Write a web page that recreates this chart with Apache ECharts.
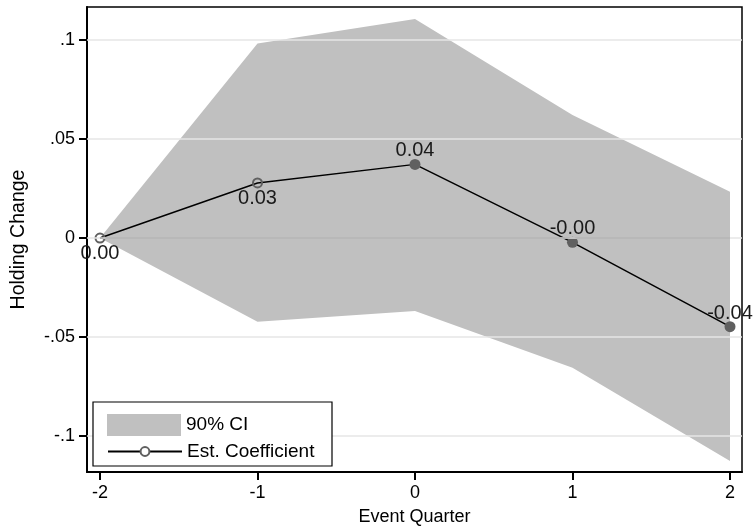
<!DOCTYPE html>
<html><head><meta charset="utf-8">
<script src="https://cdn.jsdelivr.net/npm/echarts@6/dist/echarts.min.js"></script>
<style>html,body{margin:0;padding:0;background:#fff}#c{width:753px;height:528px}</style>
</head><body><div id="c"></div>
<script>
const quarters = [-2, -1, 0, 1, 2];
const coef = [0, 0.0278, 0.0372, -0.0022, -0.0448];
const ciLower = [0, -0.0423, -0.0369, -0.0656, -0.1126];
const ciUpper = [0, 0.0983, 0.1106, 0.0621, 0.0234];
const xTicks = [-2, -1, 0, 1, 2];
const yTicks = [-0.1, -0.05, 0, 0.05, 0.1];
const yTickLabels = ['-.1', '-.05', '0', '.05', '.1'];
const seriesNames = ['90% CI', 'Est. Coefficient'];

const FONT = '"Liberation Sans", Arial, Helvetica, sans-serif';
const chart = echarts.init(document.getElementById('c'), null, {renderer: 'canvas'});

const option = {
  animation: false,
  backgroundColor: '#fff',
  grid: {left: 87, right: 11, top: 7, bottom: 56, show: true, borderColor: '#000', borderWidth: 1.5,
         backgroundColor: 'transparent', containLabel: false, outerBoundsMode: 'none'},
  xAxis: {
    type: 'value', min: -2.0825, max: 2.0762,
    name: 'Event Quarter', nameLocation: 'middle', nameGap: 36,
    nameTextStyle: {fontSize: 18, color: '#000', fontFamily: FONT},
    axisLine: {show: true, onZero: false, lineStyle: {color: '#000', width: 2}},
    axisTick: {show: true, length: 8, customValues: xTicks, lineStyle: {color: '#000', width: 2}},
    axisLabel: {customValues: xTicks, fontSize: 18, color: '#000', margin: 12, fontFamily: FONT},
    splitLine: {show: false}
  },
  yAxis: {
    type: 'value', min: -0.1182, max: 0.1167,
    name: 'Holding Change', nameLocation: 'middle', nameGap: 58, nameRotate: 90,
    nameTextStyle: {fontSize: 19.5, color: '#000', fontFamily: FONT},
    axisLine: {show: true, onZero: false, lineStyle: {color: '#000', width: 2}},
    axisTick: {show: true, length: 8, customValues: yTicks, lineStyle: {color: '#000', width: 2}},
    axisLabel: {
      customValues: yTicks, fontSize: 18, color: '#000', margin: 12, fontFamily: FONT,
      formatter: v => { const i = yTicks.findIndex(t => Math.abs(t - v) < 1e-9); return i >= 0 ? yTickLabels[i] : ''; }
    },
    splitLine: {show: false}
  },
  legend: [
    {
      data: [{name: seriesNames[0], icon: 'rect', itemStyle: {color: '#c0c0c0'}}],
      left: 102, top: 409, itemWidth: 74, itemHeight: 22, z: 20,
      selectedMode: false,
      textStyle: {fontSize: 19, color: '#000', fontFamily: FONT}
    },
    {
      data: [seriesNames[1]],
      left: 102, top: 437, itemWidth: 74, itemHeight: 11, z: 20,
      selectedMode: false,
      textStyle: {fontSize: 19, color: '#000', fontFamily: FONT}
    }
  ],
  graphic: [{
    type: 'rect', z: 10, silent: true,
    shape: {x: 93, y: 402, width: 239, height: 64},
    style: {fill: '#fff', stroke: '#000', lineWidth: 1.2}
  }],
  series: [
    {
      type: 'line', name: 'grid', data: [], z: 1, silent: true,
      markLine: {
        silent: true, symbol: ['none', 'none'], label: {show: false},
        lineStyle: {color: '#e6e6e6', width: 1.5, type: 'solid'},
        emphasis: {disabled: true},
        data: yTicks.map(v => ({yAxis: v}))
      }
    },
    {
      type: 'custom', name: seriesNames[0], z: 2, silent: true,
      itemStyle: {color: '#c0c0c0'},
      data: quarters.map((q, i) => [q, ciLower[i], ciUpper[i]]),
      encode: {x: 0, y: [1, 2]},
      renderItem: (params, api) => {
        if (params.dataIndex !== 0) return null;
        const up = quarters.map((q, i) => api.coord([q, ciUpper[i]]));
        const lo = quarters.map((q, i) => api.coord([q, ciLower[i]])).reverse();
        return {type: 'polygon', shape: {points: up.concat(lo)}, style: {fill: '#c0c0c0'}};
      }
    },
    {
      type: 'line', name: 'zero', z: 3, silent: true, symbol: 'none',
      data: [[quarters[0], 0], [quarters[quarters.length - 1], 0]],
      lineStyle: {color: '#000', width: 1.5}
    },
    {
      type: 'line', name: seriesNames[1], z: 4, silent: true,
      symbol: 'emptyCircle', symbolSize: 10,
      lineStyle: {color: '#000', width: 1.5},
      itemStyle: {color: '#606060', borderWidth: 2},
      label: {
        show: true, fontSize: 20, color: '#1a1a1a', fontFamily: FONT, lineHeight: 20,
        formatter: p => p.value[1].toFixed(2)
      },
      data: quarters.map((q, i) => ({
        value: [q, coef[i]],
        symbol: 'circle',
        symbolSize: q < 0 ? 9 : 11,
        itemStyle: q < 0
          ? {color: 'rgba(0,0,0,0)', borderColor: '#606060', borderWidth: 2}
          : {color: '#606060', borderWidth: 0},
        label: {position: q < 0 ? 'bottom' : 'top', distance: q < 0 ? 0 : -2}
      }))
    }
  ]
};
chart.setOption(option);
</script>
</body></html>
